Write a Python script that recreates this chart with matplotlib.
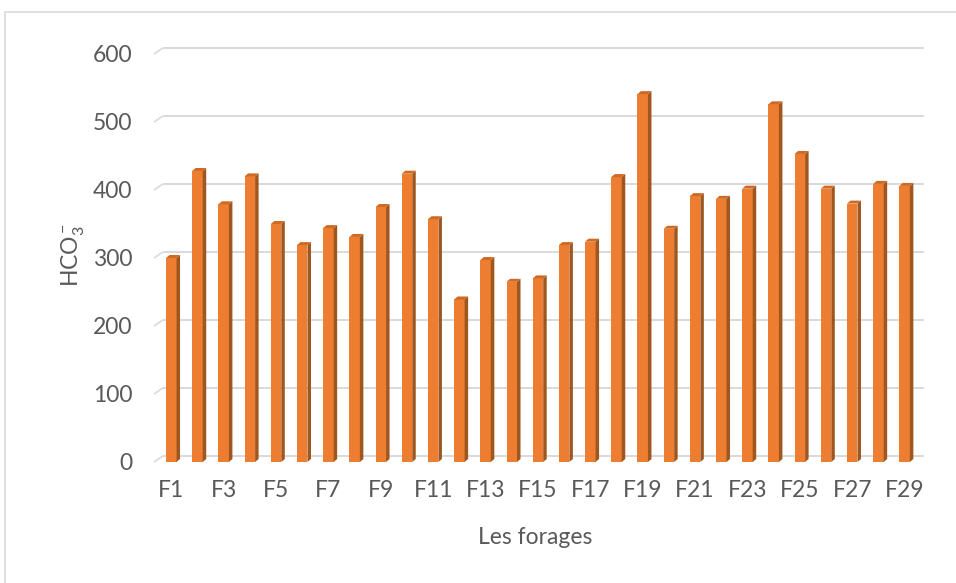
import matplotlib
matplotlib.use("Agg")
import matplotlib.pyplot as plt
from matplotlib.patches import Rectangle

# données
forages = ["F%d" % i for i in range(1, 30)]
hco3 = [300, 428, 379, 420, 350, 319, 344, 331, 375, 424,
        357, 239, 297, 265, 270, 319, 324, 419, 541, 343,
        391, 387, 402, 526, 453, 402, 380, 409, 406]
yticks = [0, 100, 200, 300, 400, 500, 600]

plt.rcParams['font.family'] = ['Lato', 'DejaVu Sans']
plt.rcParams['mathtext.fontset'] = 'custom'
plt.rcParams['mathtext.rm'] = 'Lato'
plt.rcParams['mathtext.it'] = 'Lato'

txt_col = '#595959'
grid_col = '#D9D9D9'
front_col = '#ED7D31'
side_col = '#A0561F'
cap_col = '#CF6A24'

W, H = 956, 583
fig = plt.figure(figsize=(W / 100, H / 100), dpi=100)

# cadre du graphique
fig.patches.append(Rectangle((5 / W, -0.05), 1.1, 1 - 12 / H + 0.05,
                             transform=fig.transFigure, fill=False,
                             edgecolor=grid_col, lw=1.2))

left_px, right_px = 154, 924
bottom_px, top_px = 462, 40
ax = fig.add_axes([left_px / W, 1 - bottom_px / H,
                   (right_px - left_px) / W, (bottom_px - top_px) / H])
xmin, xmax = -0.66, 28.74
ymax = (bottom_px - top_px) / 0.68
ax.set_xlim(xmin, xmax)
ax.set_ylim(0, ymax)

# quadrillage (mur du fond, effet 3D)
sx, sy = 0.34, 9
for v in yticks:
    ax.plot([xmin, xmin + sx], [v, v + sy], color=grid_col, lw=1.2, zorder=1,
            solid_capstyle='butt', clip_on=False)
    ax.plot([xmin + sx, xmax], [v + sy, v + sy], color=grid_col, lw=1.4, zorder=1,
            solid_capstyle='butt', clip_on=False)

# barres 3D
w = 0.4
dx, dy = 0.134, 4.4
xs = list(range(len(forages)))
ax.bar(xs, hco3, width=w, color=front_col, zorder=3)
for x, v in zip(xs, hco3):
    r = x + w / 2
    ax.fill([r, r + dx, r + dx, r], [0, dy, v + dy, v], color=side_col, lw=0, zorder=3)
    ax.fill([x - w / 2, r, r + dx, x - w / 2 + dx], [v, v, v + dy, v + dy],
            color=cap_col, lw=0, zorder=3)

for s in ax.spines.values():
    s.set_visible(False)

ax.set_yticks(yticks)
ax.set_yticklabels([str(t) for t in yticks])
ax.set_xticks(xs[::2])
ax.set_xticklabels(forages[::2])
ax.tick_params(axis='y', length=0, pad=15.5, labelsize=16.5, labelcolor=txt_col)
ax.tick_params(axis='x', length=0, pad=13, labelsize=16.5, labelcolor=txt_col)

fig.text(535 / W, 1 - 537 / H, "Les forages", ha='center', va='center',
         fontsize=16.5, color=txt_col)
fig.text(73 / W, 1 - 255 / H, r"HCO$_3^-$", ha='center', va='center',
         rotation=90, fontsize=16.5, color=txt_col)

fig.savefig("out.png", dpi=100)
